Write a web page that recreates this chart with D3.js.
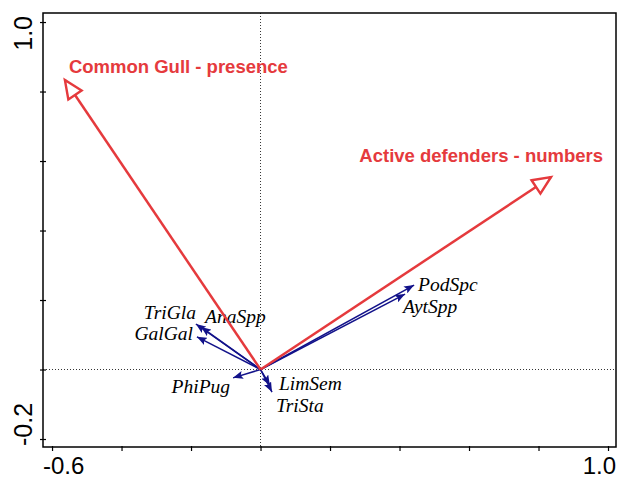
<!DOCTYPE html>
<html>
<head>
<meta charset="utf-8">
<script src="https://cdn.jsdelivr.net/npm/d3@7"></script>
<style>
  body { margin: 0; background: #fff; }
  svg { display: block; }
  .tick line { stroke: #000; stroke-width: 1.2; }
  .domain { display: none; }
</style>
</head>
<body>
<svg id="biplot"></svg>
<script>
// environmental variables (red arrows) - axis 1 / axis 2 scores
let envNames = ["Common Gull - presence", "Active defenders - numbers"]
let envX = [-0.563, 0.836]
let envY = [0.833, 0.554]

// species (blue arrows)
let sppNames = ["TriGla", "AnaSpp", "GalGal", "PhiPug", "LimSem", "TriSta", "PodSpc", "AytSpp"]
let sppX = [-0.186, -0.171, -0.183, -0.079, 0.027, 0.033, 0.442, 0.416]
let sppY = [0.131, 0.122, 0.094, -0.024, -0.045, -0.065, 0.243, 0.217]

let xTicks = [-0.6, -0.4, -0.2, 0, 0.2, 0.4, 0.6, 0.8, 1.0]
let yTicks = [-0.2, 0, 0.2, 0.4, 0.6, 0.8, 1.0]

// label placement relative to arrow tip (pixels)
let labelPos = {
  "Common Gull - presence": [4, -7, "start"],
  "Active defenders - numbers": [52, -15, "end"],
  "TriGla": [0, -5, "end"],
  "AnaSpp": [4, -4, "start"],
  "GalGal": [-4, 3, "end"],
  "PhiPug": [-3, 15, "end"],
  "LimSem": [9, 5, "start"],
  "TriSta": [4, 20, "start"],
  "PodSpc": [4, 6, "start"],
  "AytSpp": [-2, 19, "start"]
}

let width = 619
let height = 479
let plotLeft = 43, plotRight = 616, plotTop = 13, plotBottom = 447
let red = "#e53a3d"
let blue = "#12128a"

let svg = d3.select("#biplot")
    .attr("width", width)
    .attr("height", height)

let xScale = d3.scaleLinear()
    .domain([-0.626, 1.023])
    .range([plotLeft, plotRight])

let yScale = d3.scaleLinear()
    .domain([-0.223, 1.026])
    .range([plotBottom, plotTop])

// markers
let defs = svg.append("defs")
defs.append("marker")
    .attr("id", "openHead")
    .attr("viewBox", "0 -8 18 16")
    .attr("refX", 18).attr("refY", 0)
    .attr("markerWidth", 18).attr("markerHeight", 16)
    .attr("markerUnits", "userSpaceOnUse")
    .attr("orient", "auto")
    .style("overflow", "visible")
  .append("path")
    .attr("d", "M0,-8L18,0L0,8Z")
    .attr("fill", "#fff")
    .attr("stroke", red)
    .attr("stroke-width", 2.4)
    .attr("stroke-linejoin", "miter")

defs.append("marker")
    .attr("id", "blueHead")
    .attr("viewBox", "0 -4 10 8")
    .attr("refX", 10).attr("refY", 0)
    .attr("markerWidth", 10).attr("markerHeight", 8)
    .attr("markerUnits", "userSpaceOnUse")
    .attr("orient", "auto")
  .append("path")
    .attr("d", "M0,-4L10,0L0,4L2,0Z")
    .attr("fill", blue)

// dotted zero lines
svg.append("line")
    .attr("x1", xScale(0)).attr("x2", xScale(0))
    .attr("y1", plotTop).attr("y2", plotBottom)
    .attr("stroke", "#000").attr("stroke-width", 0.8)
    .attr("stroke-dasharray", "1,2")
svg.append("line")
    .attr("x1", plotLeft).attr("x2", plotRight)
    .attr("y1", yScale(0)).attr("y2", yScale(0))
    .attr("stroke", "#000").attr("stroke-width", 0.8)
    .attr("stroke-dasharray", "1,2")

// axes (ticks only, labels at ends)
svg.append("g")
    .attr("transform", `translate(0, ${plotBottom - 1})`)
    .call(d3.axisBottom(xScale).tickValues(xTicks).tickSizeInner(5).tickSizeOuter(0).tickFormat(""))
svg.append("g")
    .attr("transform", `translate(${plotLeft + 3}, 0)`)
    .call(d3.axisLeft(yScale).tickValues(yTicks).tickSizeInner(6).tickSizeOuter(0).tickFormat(""))

// frame
svg.append("rect")
    .attr("x", plotLeft).attr("y", plotTop)
    .attr("width", plotRight - plotLeft).attr("height", plotBottom - plotTop)
    .attr("fill", "none")
    .attr("stroke", "#000")
    .attr("stroke-width", 1.5)

let axisFont = "Liberation Sans, Arial, sans-serif"
let fmt = v => d3.format(".1f")(v).replace("−", "-")
svg.append("text")
    .attr("x", plotLeft).attr("y", 474)
    .attr("font-family", axisFont).attr("font-size", 24)
    .attr("text-anchor", "start")
    .text(fmt(xTicks[0]))
svg.append("text")
    .attr("x", plotRight).attr("y", 474)
    .attr("font-family", axisFont).attr("font-size", 24)
    .attr("text-anchor", "end")
    .text(fmt(xTicks[xTicks.length - 1]))
svg.append("text")
    .attr("transform", `translate(32, ${plotBottom - 1}) rotate(-90)`)
    .attr("font-family", axisFont).attr("font-size", 25)
    .attr("text-anchor", "start")
    .text(fmt(yTicks[0]))
svg.append("text")
    .attr("transform", `translate(32, ${plotTop + 3}) rotate(-90)`)
    .attr("font-family", axisFont).attr("font-size", 25)
    .attr("text-anchor", "end")
    .text(fmt(yTicks[yTicks.length - 1]))

// species arrows
let spp = sppNames.map((n, i) => ({name: n, x: sppX[i], y: sppY[i]}))
svg.selectAll(".spp")
    .data(spp)
    .enter()
    .append("line")
    .attr("class", "spp")
    .attr("x1", xScale(0)).attr("y1", yScale(0))
    .attr("x2", d => xScale(d.x)).attr("y2", d => yScale(d.y))
    .attr("stroke", blue)
    .attr("stroke-width", 1.5)
    .attr("marker-end", "url(#blueHead)")

svg.selectAll(".sppLabel")
    .data(spp)
    .enter()
    .append("text")
    .attr("class", "sppLabel")
    .attr("x", d => xScale(d.x) + labelPos[d.name][0])
    .attr("y", d => yScale(d.y) + labelPos[d.name][1])
    .attr("text-anchor", d => labelPos[d.name][2])
    .attr("font-family", "Liberation Serif, Times New Roman, serif")
    .attr("font-style", "italic")
    .attr("font-size", 19.5)
    .attr("fill", "#000")
    .text(d => d.name)

// environmental arrows
let env = envNames.map((n, i) => ({name: n, x: envX[i], y: envY[i]}))
svg.selectAll(".env")
    .data(env)
    .enter()
    .append("line")
    .attr("class", "env")
    .attr("x1", xScale(0)).attr("y1", yScale(0))
    .attr("x2", d => xScale(d.x)).attr("y2", d => yScale(d.y))
    .attr("stroke", red)
    .attr("stroke-width", 2.5)
    .attr("marker-end", "url(#openHead)")

svg.selectAll(".envLabel")
    .data(env)
    .enter()
    .append("text")
    .attr("class", "envLabel")
    .attr("x", d => xScale(d.x) + labelPos[d.name][0])
    .attr("y", d => yScale(d.y) + labelPos[d.name][1])
    .attr("text-anchor", d => labelPos[d.name][2])
    .attr("font-family", "Liberation Sans, Arial, sans-serif")
    .attr("font-weight", "bold")
    .attr("font-size", 18.5)
    .attr("fill", red)
    .text(d => d.name)
</script>
</body>
</html>
